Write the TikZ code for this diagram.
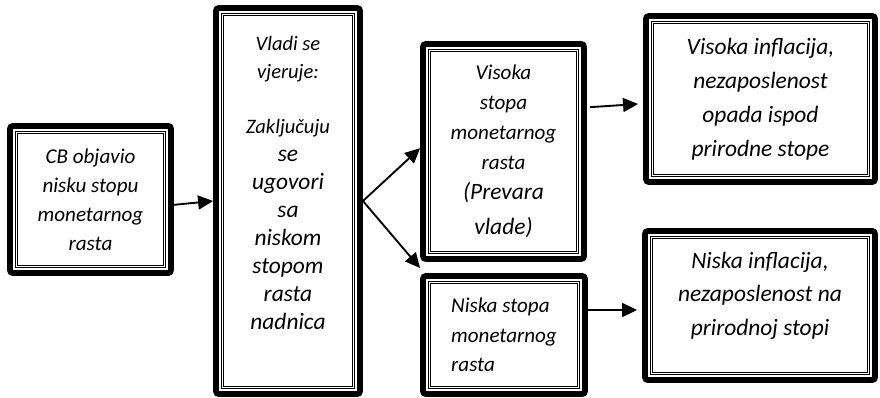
\documentclass[tikz,border=0pt]{standalone}
\usepackage{fontspec}
\setmainfont{Carlito}[ItalicFont={Carlito Italic}]
\usetikzlibrary{arrows.meta}

% larger line inside a box
\newcommand{\veci}[1]{{\fontsize{20}{23.8}\selectfont #1}}

\begin{document}
\begin{tikzpicture}[
    x=0.03cm, y=-0.03cm,
    box/.style={draw, line width=5pt, rounded corners=2.5pt, inner sep=0pt,
                align=center},
    innerframe/.style={draw, line width=0.6pt, double, double distance=1.1pt},
    arrow/.style={-{Triangle[length=0.45cm, width=0.42cm]}, line width=1.6pt},
]
\useasboundingbox (0,0) rectangle (880,398);

\node[box, minimum width=4.83cm, minimum height=4.41cm,
      font=\fontsize{18}{24.7}\selectfont\itshape] (cb) at (90.5,199.5)
      {CB objavio\\nisku stopu\\monetarnog\\rasta};
\node[box, minimum width=4.32cm, minimum height=11.58cm, text depth=1.11cm,
      font=\fontsize{17.5}{23.8}\selectfont\itshape] (vlada) at (288,201)
      {Vladi se\\vjeruje:\\[23.8pt]Zaključuju\\\veci{se}\\\veci{ugovori}\\\veci{sa}\\
       \veci{niskom}\\\veci{stopom}\\\veci{rasta}\\\veci{nadnica}};
\node[box, minimum width=4.83cm, minimum height=6.45cm,
      font=\fontsize{18}{25.6}\selectfont\itshape] (visoka) at (503.5,151.5)
      {Visoka\\stopa\\monetarnog\\rasta\\\veci{(Prevara}\\[4.2pt]\veci{vlade)}};
\node[box, align=left, minimum width=4.86cm, minimum height=3.54cm,
      font=\fontsize{18}{25}\selectfont\itshape] (niska) at (504,335)
      {Niska stopa\\monetarnog\\rasta};
\node[box, minimum width=6.87cm, minimum height=4.98cm,
      font=\fontsize{20}{29}\selectfont\itshape] (visinf) at (760.5,99)
      {Visoka inflacija,\\nezaposlenost\\opada ispod\\prirodne stope};
\node[box, minimum width=6.9cm, minimum height=4.47cm, text depth=0.71cm,
      font=\fontsize{20}{28.5}\selectfont\itshape] (nisinf) at (760,305.5)
      {Niska inflacija,\\nezaposlenost na\\prirodnoj stopi};

% thin double line inside every box
\foreach \n in {cb,vlada,visoka,niska,visinf,nisinf}
  \draw[innerframe] ([shift={(0.276cm,-0.276cm)}]\n.north west)
    rectangle ([shift={(-0.276cm,0.276cm)}]\n.south east);

\draw[arrow] ([yshift=-0.16cm]cb.east) -- (vlada.west);
\draw[arrow] (vlada.east) -- ([yshift=0.1cm]visoka.west);
\draw[arrow] (vlada.east) -- ([yshift=0.15cm]niska.north west);
\draw[arrow] ([xshift=0.09cm, yshift=1.33cm]visoka.east) -- ([xshift=-0.15cm, yshift=-0.15cm]visinf.west);
\draw[arrow] ([yshift=0.75cm]niska.east) -- ([xshift=-0.15cm, yshift=-0.135cm]nisinf.west);
\end{tikzpicture}
\end{document}
